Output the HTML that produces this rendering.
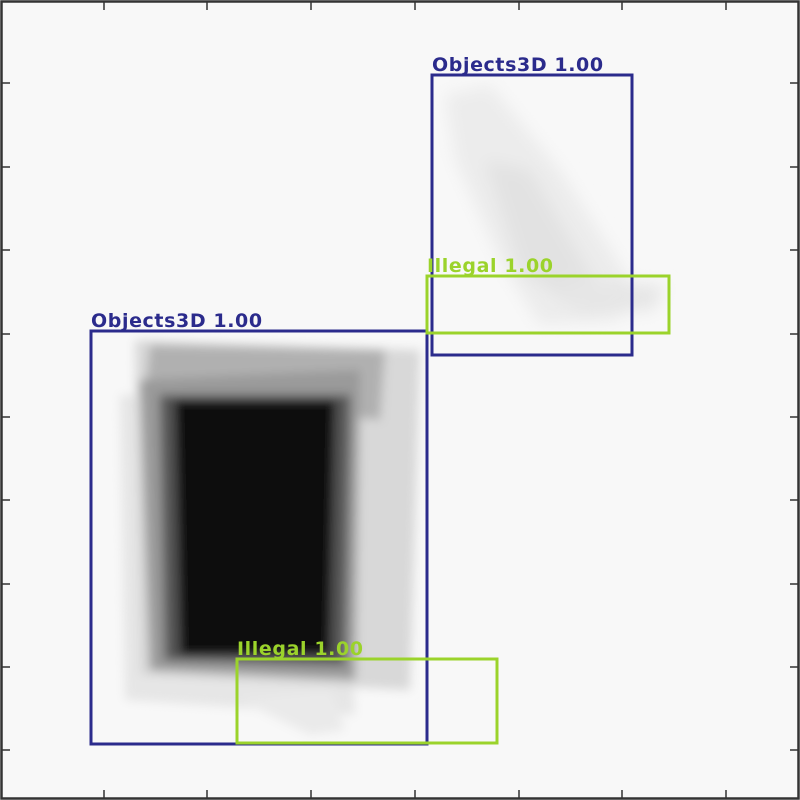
<!DOCTYPE html>
<html><head><meta charset="utf-8"><style>
html,body{margin:0;padding:0;background:#f8f8f8;}
svg{display:block;}
text{font-family:"DejaVu Sans","Liberation Sans",sans-serif;font-weight:bold;font-size:19px;letter-spacing:0.6px;}
</style></head><body>
<svg id="chart" width="800" height="800" viewBox="0 0 800 800" xmlns="http://www.w3.org/2000/svg">
<defs>
<filter id="blur" x="-20%" y="-20%" width="140%" height="140%"><feGaussianBlur stdDeviation="5"/></filter>
<filter id="blur2" x="-20%" y="-20%" width="140%" height="140%"><feGaussianBlur stdDeviation="8"/></filter>
</defs>
<rect x="0" y="0" width="800" height="800" fill="#f8f8f8"/>
<g filter="url(#blur)">
<polygon points="120,395 340,395 355,715 125,700" fill="#e6e6e6"/>
<polygon points="135,340 420,350 410,690 140,675" fill="#d8d8d8"/>
<polygon points="150,345 385,350 380,420 145,395" fill="#b0b0b0"/>
<polygon points="140,380 360,370 355,680 150,670" fill="#9a9a9a"/>
<polygon points="160,395 350,395 345,665 165,660" fill="#555"/>
<polygon points="175,400 335,400 330,655 180,655" fill="#0e0e0e"/>
<polygon points="240,700 330,690 345,730 310,735" fill="#eaeaea"/>
</g>
<g filter="url(#blur2)">
<polygon points="445,95 490,85 560,170 630,280 620,320 540,325 500,260 455,160" fill="#ececec"/>
<polygon points="485,160 530,170 600,290 580,310 520,270" fill="#e2e2e2"/>
<polygon points="560,280 665,285 655,310 580,315" fill="#e6e6e6"/>
</g>
<g id="boxes"></g>
<g id="frame"></g>
</svg>
<script>
const boxLabels = ["Objects3D 1.00","Objects3D 1.00","Illegal 1.00","Illegal 1.00"];
const boxX0 = [91,432,427,237];
const boxY0 = [331,75,276,659];
const boxX1 = [427,632,669,497];
const boxY1 = [744,355,333,743];
const boxColors = ["#2b2b8c","#2b2b8c","#9bd32b","#9bd32b"];
const xTicks = [104,207,311,415,519,622,726];
const yTicks = [83,167,250,334,417,500,584,667,750];
const NS = "http://www.w3.org/2000/svg";
const g = document.getElementById('boxes');
for (let i = 0; i < boxLabels.length; i++) {
  const r = document.createElementNS(NS, 'rect');
  r.setAttribute('x', boxX0[i]); r.setAttribute('y', boxY0[i]);
  r.setAttribute('width', boxX1[i] - boxX0[i]); r.setAttribute('height', boxY1[i] - boxY0[i]);
  r.setAttribute('fill', 'none'); r.setAttribute('stroke', boxColors[i]); r.setAttribute('stroke-width', 3);
  
  
  g.appendChild(r);
  const t = document.createElementNS(NS, 'text');
  t.setAttribute('x', boxX0[i]); t.setAttribute('y', boxY0[i] - 4);
  t.setAttribute('fill', boxColors[i]);
  t.textContent = boxLabels[i];
  
  
  g.appendChild(t);
}
const f = document.getElementById('frame');
const fr = document.createElementNS(NS, 'rect');
fr.setAttribute('x', 1.5); fr.setAttribute('y', 1.5); fr.setAttribute('width', 797); fr.setAttribute('height', 797);
fr.setAttribute('fill', 'none'); fr.setAttribute('stroke', '#333'); fr.setAttribute('stroke-width', 2.5);


f.appendChild(fr);
function line(x1,y1,x2,y2){
  const l = document.createElementNS(NS,'line');
  l.setAttribute('x1',x1);l.setAttribute('y1',y1);l.setAttribute('x2',x2);l.setAttribute('y2',y2);
  l.setAttribute('stroke','#333');l.setAttribute('stroke-width',1.5);
  
  
  f.appendChild(l);
}
xTicks.forEach(x => { line(x,2,x,10); line(x,790,x,798); });
yTicks.forEach(y => { line(2,y,10,y); line(790,y,798,y); });
</script>
</body></html>
